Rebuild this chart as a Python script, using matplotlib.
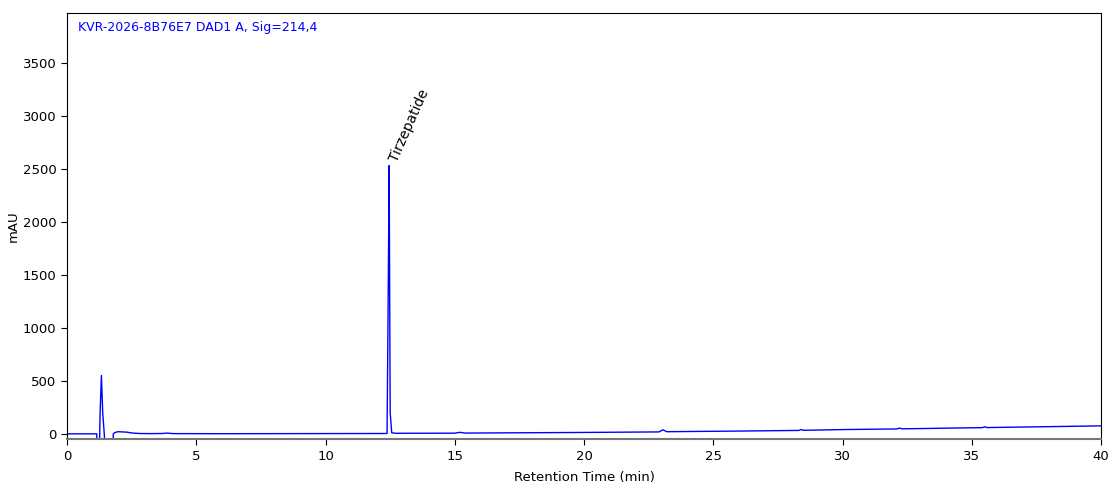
import matplotlib
matplotlib.use('Agg')
import matplotlib.pyplot as plt

# trace vertices (min, mAU)
time_min = [0.0, 1.15, 1.16, 1.24, 1.28, 1.33, 1.38, 1.44, 1.52, 1.54, 1.76, 1.79,
            1.85, 1.97, 2.3, 2.5, 2.8, 3.2, 3.7, 3.86, 4.1, 6.0, 9.0, 12.38,
            12.43, 12.46, 12.50, 12.56, 12.7, 15.0, 15.2, 15.4, 20.0, 22.9,
            23.05, 23.2, 26.0, 28.3, 28.4, 28.5, 30.0, 32.1, 32.2, 32.3,
            35.0, 35.4, 35.5, 35.6, 40.0]
signal_mau = [0, 0, -300, -300, 200, 550, 200, 0, -300, -300, -300, 0,
              12, 20, 16, 8, 3, 2, 3, 7, 2, 1, 2, 3,
              1500, 2530, 200, 10, 5, 6, 14, 7, 13, 18,
              38, 20, 26, 32, 40, 33, 40, 46, 54, 47,
              57, 58, 66, 59, 75]

peak_name = 'Tirzepatide'
peak_time = 12.46
peak_height = 2530

title = 'KVR-2026-8B76E7 DAD1 A, Sig=214,4'
xticks = [0, 5, 10, 15, 20, 25, 30, 35, 40]
yticks = [0, 500, 1000, 1500, 2000, 2500, 3000, 3500]

fig = plt.figure(figsize=(11.19, 4.99), dpi=100)
ax = fig.add_axes([0.0599, 0.120, 0.9241, 0.854])

ax.plot(time_min, signal_mau, color='#0000ff', lw=1.0)
ax.text(peak_time + 0.42, peak_height + 20, peak_name, rotation=66,
        rotation_mode='anchor', ha='left', va='bottom', fontsize=10,
        color='black')
ax.text(0.011, 0.965, title, transform=ax.transAxes, color='#0000ff',
        fontsize=9, ha='left', va='center')

ax.set_xlim(0, 40)
ax.set_ylim(-50, 3970)
ax.set_xticks(xticks)
ax.set_yticks(yticks)
ax.tick_params(labelsize=9.5, length=4)
ax.spines['bottom'].set_color('#777777')
ax.spines['bottom'].set_linewidth(1.5)
ax.set_xlabel('Retention Time (min)', fontsize=9.5, labelpad=6)
ax.set_ylabel('mAU', fontsize=9.5, labelpad=2)

fig.savefig('out.png', dpi=100)
